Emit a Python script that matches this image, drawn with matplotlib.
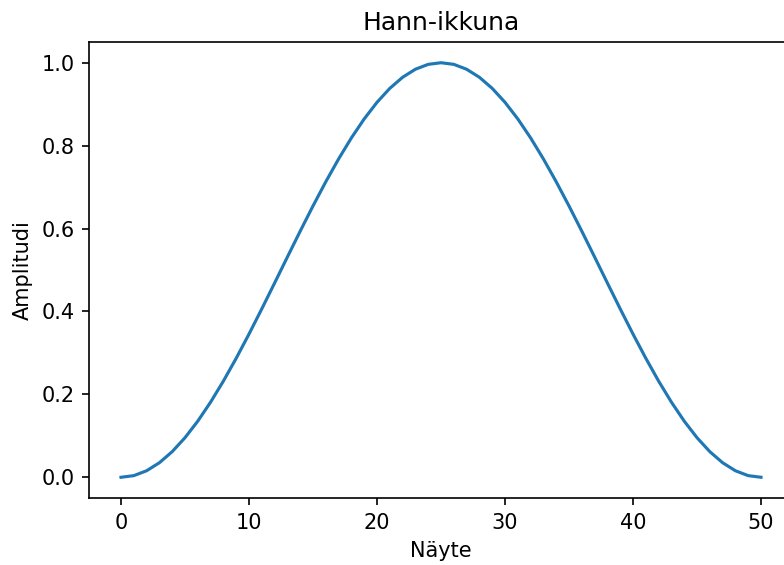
import matplotlib
matplotlib.use("Agg")
import matplotlib.pyplot as plt

# Hann-ikkunan arvot (51 näytettä), luettu kuvasta
half = [0.0, 0.00394, 0.01571, 0.03511, 0.06185, 0.09549, 0.13552, 0.18129,
        0.23209, 0.28711, 0.34549, 0.40631, 0.46860, 0.53140, 0.59369,
        0.65451, 0.71289, 0.76791, 0.81871, 0.86448, 0.90451, 0.93815,
        0.96489, 0.98429, 0.99606]
amplitudi = half + [1.0] + half[::-1]
naytteet = list(range(len(amplitudi)))

dpi = 150
fig = plt.figure(figsize=(784 / dpi, 565 / dpi), dpi=dpi)
# oikea reuna jää kuvan ulkopuolelle kuten alkuperäisessä
ax = fig.add_axes([89 / 784, 1 - 498 / 565, (793 - 89) / 784, (498 - 42) / 565])
ax.plot(naytteet, amplitudi, color='#1f77b4', linewidth=1.5)
ax.set_title("Hann-ikkuna")
ax.set_xlabel("Näyte")
ax.set_ylabel("Amplitudi")
fig.savefig("out.png", dpi=dpi)
